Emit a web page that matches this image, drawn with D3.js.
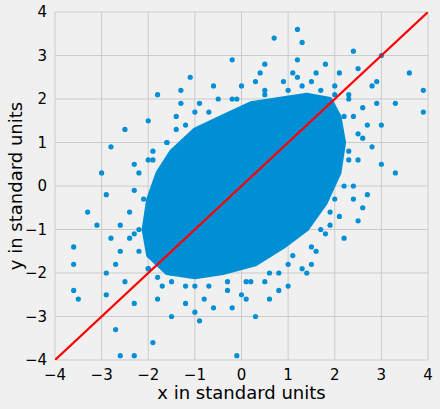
<!DOCTYPE html>
<html>
<head>
<meta charset="utf-8">
<script src="https://cdn.jsdelivr.net/npm/d3@7"></script>
<style>
  body { margin: 0; background: #f0f0f0; }
  text { font-family: "DejaVu Sans", sans-serif; fill: #000; }
</style>
</head>
<body>
<div class="workspace"></div>
<script>
const xTicks = [-4, -3, -2, -1, 0, 1, 2, 3, 4];
const yTicks = [-4, -3, -2, -1, 0, 1, 2, 3, 4];

// dense centre of the cloud, outline (x, y in standard units)
const coreOutline = [
  [1.9, 2.0], [1.4, 2.1], [0.8, 2.0], [0.2, 1.9], [-0.4, 1.6], [-1.0, 1.3], [-1.5, 0.8],
  [-1.8, 0.3], [-2.0, -0.3], [-2.1, -1.0], [-2.0, -1.6], [-1.6, -2.0], [-1.0, -2.1],
  [-0.4, -2.0], [0.3, -1.8], [0.9, -1.4], [1.4, -1.0], [1.8, -0.4], [2.1, 0.3],
  [2.2, 1.0], [2.1, 1.6]
];

// scattered points outside the dense centre
const pointsX = [3.6, 3.9, 3.0, 2.9, 2.4, 2.5, 1.2, 0.7, 1.3, 1.2, 1.1, 0.5, -0.2, -0.6, -1.3, -1.8, -2.5, -2.0, -3.0, -2.9,
  -3.1, -3.6, -3.6, -3.6, -3.5, -2.9, -2.7, -2.6, -2.3, -1.9, -1.5, -0.9, -0.1, 0.3, 0.1, 1.0, 1.3, 1.4, 2.2, 2.5,
  2.7, 3.0, 3.3, 3.9, 3.0, 2.6, 2.4, -2.6, -2.5, -2.2, -2.1, -2.3, -1.9, -1.4, -0.9, 0.0, 0.5, 1.5, 2.0, 2.2,
  2.3, 2.0, 1.7, 1.1, 0.5, -0.3, -1.0, -1.7, -2.0, -2.3, -1.2, -0.6, 0.6, 1.6, 2.8, 3.3, 1.8, -3.3, -2.8, -1.1,
  0.9, 2.6, 0.8, -1.5, 2.1, -2.4, -1.6, 1.9, -0.2, 0.2,
  // ring just outside the dense centre
  2.3, 2.4, 2.5, 2.3, 2.2, 2.4, 2.1, 1.8, 1.5, 1.0, 0.6, 0.1, -0.3, -0.7, -1.2, -1.5, -1.8, -2.0, -2.2, -2.3,
  -2.4, -2.3, -2.2, -2.0, -1.6, -1.2, -0.7, -0.1, 0.5, 1.0, 1.3, 1.7, 2.0, 2.3, 2.6, 2.7, 2.5, 1.2, 0.3, -0.5,
  -1.0, -1.4, -1.9, -2.6, -2.7, -2.8, -1.8, -0.8, 0.0, 0.8, 1.5, 2.8, 1.6, -1.3, -0.2, 0.4, 1.9, -2.9, -1.0, 2.9];
const pointsY = [2.6, 2.2, 3.0, 1.9, 3.1, 2.7, 3.6, 3.4, 3.3, 2.9, 2.6, 2.8, 2.9, 2.3, 2.2, 2.1, 1.3, 1.5, 0.3, -0.2,
  -0.9, -1.4, -1.8, -2.4, -2.6, -2.5, -3.3, -3.9, -3.9, -3.6, -3.0, -3.1, -3.9, -3.0, -2.6, -2.3, -1.9, -2.0, -1.2, -0.8,
  -0.2, 0.5, 0.3, 1.7, 1.4, 1.1, 0.0, -1.5, -2.2, -1.0, -0.3, 0.5, 0.8, 1.6, 1.9, 2.3, 2.2, 2.4, 2.3, 1.6,
  0.8, -0.3, -1.0, -1.6, -2.2, -2.4, -2.3, -2.3, -1.9, -2.7, -2.7, -2.8, -2.6, -1.5, 2.3, 1.9, 2.8, -0.6, 0.9, 2.5,
  2.4, -0.5, -2.0, -2.0, 2.6, -1.2, 1.0, -0.6, 2.0, -2.2,
  2.1, 1.6, 1.2, 0.6, 0.0, -0.3, -0.7, -1.1, -1.4, -1.8, -2.0, -2.2, -2.2, -2.3, -2.3, -2.2, -2.1, -1.9, -1.5, -1.1,
  -0.6, -0.1, 0.3, 0.6, 1.0, 1.4, 1.7, 2.0, 2.1, 2.2, 2.3, 2.2, 2.1, 2.0, 1.8, 1.4, 0.6, 2.5, 2.4, 2.0,
  1.7, 1.3, 0.6, -0.9, -1.8, -1.2, -2.6, -2.6, -2.5, -2.4, -1.8, 0.9, 2.6, 1.9, -2.8, 2.6, -0.9, -2.0, -2.9, 2.4];

const lineX = [-4, 4];

const width = 440, height = 409;
const margin = { left: 55, right: 12, top: 12, bottom: 49 };

const x = d3.scaleLinear().domain([-4, 4]).range([margin.left, width - margin.right]);
const y = d3.scaleLinear().domain([-4, 4]).range([height - margin.bottom, margin.top]);

const svg = d3.select('.workspace').append('svg')
  .attr('width', width).attr('height', height);

svg.append('rect').attr('width', width).attr('height', height).style('fill', '#f0f0f0');

svg.append('clipPath').attr('id', 'plot')
  .append('rect')
  .attr('x', margin.left).attr('y', margin.top)
  .attr('width', width - margin.left - margin.right)
  .attr('height', height - margin.top - margin.bottom);

// grid
svg.append('g').selectAll('line').data(xTicks).enter().append('line')
  .attr('x1', d => x(d)).attr('x2', d => x(d))
  .attr('y1', margin.top).attr('y2', height - margin.bottom)
  .style('stroke', '#cbcbcb').style('stroke-width', 1);
svg.append('g').selectAll('line').data(yTicks).enter().append('line')
  .attr('y1', d => y(d)).attr('y2', d => y(d))
  .attr('x1', margin.left).attr('x2', width - margin.right)
  .style('stroke', '#cbcbcb').style('stroke-width', 1);

const plot = svg.append('g').attr('clip-path', 'url(#plot)');
const blue = '#008fd5';

plot.append('path')
  .datum(coreOutline)
  .attr('d', d3.line().x(d => x(d[0])).y(d => y(d[1])).curve(d3.curveLinearClosed))
  .style('fill', blue).style('stroke', blue).style('stroke-width', 4)
  .style('stroke-linejoin', 'round');

plot.selectAll('circle').data(d3.range(pointsX.length)).enter().append('circle')
  .attr('cx', i => x(pointsX[i])).attr('cy', i => y(pointsY[i]))
  .attr('r', 2.6).style('fill', blue);

plot.append('line')
  .attr('x1', x(lineX[0])).attr('y1', y(lineX[0]))
  .attr('x2', x(lineX[1])).attr('y2', y(lineX[1]))
  .style('stroke', 'red').style('stroke-width', 2.2);

const fmt = d => (d < 0 ? '\u2212' + Math.abs(d) : String(d));

svg.append('g').selectAll('text').data(xTicks).enter().append('text')
  .attr('x', d => x(d)).attr('y', height - margin.bottom + 20)
  .attr('text-anchor', 'middle').style('font-size', '15px').text(fmt);
svg.append('g').selectAll('text').data(yTicks).enter().append('text')
  .attr('x', margin.left - 8).attr('y', d => y(d) + 5)
  .attr('text-anchor', 'end').style('font-size', '15px').text(fmt);

svg.append('text')
  .attr('x', (margin.left + width - margin.right) / 2).attr('y', height - 10)
  .attr('text-anchor', 'middle').style('font-size', '18px').text('x in standard units');
svg.append('text')
  .attr('transform', `translate(22,${(margin.top + height - margin.bottom) / 2}) rotate(-90)`)
  .attr('text-anchor', 'middle').style('font-size', '18px').text('y in standard units');
</script>
</body>
</html>
